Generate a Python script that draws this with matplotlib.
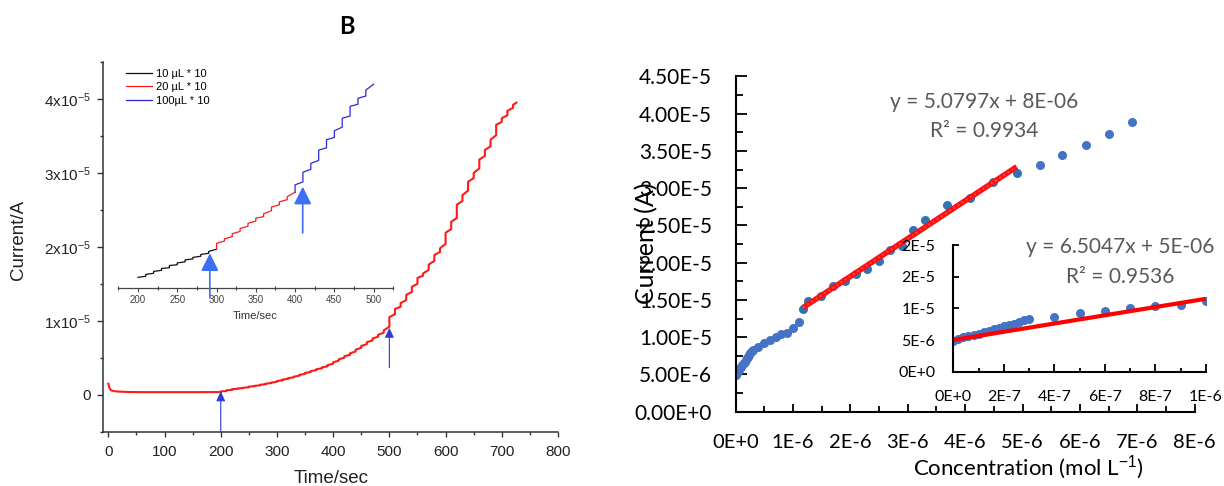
import numpy as np
import matplotlib
matplotlib.use('Agg')
import matplotlib.pyplot as plt
from matplotlib.ticker import FixedLocator, MultipleLocator, FuncFormatter

plt.rcParams['font.family'] = ['Liberation Sans', 'DejaVu Sans']
plt.rcParams['mathtext.fontset'] = 'custom'
plt.rcParams['mathtext.rm'] = 'Liberation Sans'
plt.rcParams['mathtext.it'] = 'Liberation Sans:italic'
plt.rcParams['mathtext.bf'] = 'Liberation Sans:bold'

# ---------------- amperometric trace (currents in uA) ----------------
t_base = [0, 2, 5, 10, 20, 35, 60, 100, 150, 200]
i_base = [1.5, 0.9, 0.6, 0.48, 0.42, 0.37, 0.35, 0.35, 0.35, 0.36]

# additions every 10 s; current just before / just after each addition
t_add = list(range(200, 730, 10))
i_before = [0.36, 0.50, 0.65, 0.80, 0.90, 1.00, 1.15, 1.27, 1.42, 1.57,
            1.75, 1.95, 2.15, 2.35, 2.57, 2.82, 3.07, 3.32, 3.57, 3.85,
            4.20, 4.60, 5.00, 5.40, 5.85, 6.35, 6.85, 7.35, 7.85, 8.40,
            9.20, 10.9, 11.9, 12.8, 13.9, 15.0, 16.1, 16.9, 18.1, 19.3,
            20.4, 22.4, 23.9, 26.2, 27.6, 29.3, 30.6, 32.3, 33.6, 35.1,
            36.9, 37.8, 38.8]
i_after = [0.45, 0.60, 0.75, 0.85, 0.95, 1.10, 1.20, 1.35, 1.50, 1.65,
           1.85, 2.05, 2.25, 2.45, 2.70, 2.95, 3.20, 3.45, 3.70, 4.00,
           4.40, 4.80, 5.20, 5.60, 6.10, 6.60, 7.10, 7.60, 8.10, 8.70,
           10.5, 11.6, 12.4, 13.5, 14.6, 15.8, 16.4, 17.6, 18.9, 19.8,
           21.9, 23.4, 25.7, 27.0, 28.8, 30.0, 31.8, 33.1, 34.5, 36.5,
           37.4, 38.4, 39.2]
t_stop, i_stop = 726, 39.5

# zoomed traces for the three injection volumes
ins_t_10 = [200, 210, 220, 230, 240, 250, 260, 270, 280, 290]
ins_before_10 = [15.9, 16.05, 16.45, 16.85, 17.2, 17.6, 18.0, 18.4, 18.75, 19.15]
ins_after_10 = [15.9, 16.3, 16.7, 17.1, 17.5, 17.85, 18.25, 18.6, 19.0, 19.4]
ins_t_20 = [300, 310, 320, 330, 340, 350, 360, 370, 380, 390]
ins_before_20 = [19.7, 20.8, 21.4, 22.1, 22.8, 23.5, 24.1, 24.9, 25.7, 26.4]
ins_after_20 = [20.5, 21.1, 21.8, 22.5, 23.2, 23.9, 24.5, 25.4, 26.1, 26.8]
ins_t_100 = [400, 410, 420, 430, 440, 450, 460, 470, 480, 490]
ins_before_100 = [27.4, 28.8, 30.5, 31.7, 33.4, 34.8, 36.2, 37.7, 39.3, 40.4]
ins_after_100 = [28.4, 30.1, 31.3, 33.1, 34.5, 35.7, 37.4, 39.0, 40.1, 41.2]
ins_labels = ['10 µL * 10', '20 µL * 10', '100µL * 10']

# ---------------- calibration (conc in umol/L, current in uA) ----------------
conc_dense = [0.00, 0.02, 0.04, 0.06, 0.08, 0.10, 0.12, 0.14,
              0.16, 0.18, 0.20, 0.22, 0.24, 0.26, 0.28, 0.30]
cur_dense = [4.9, 5.2, 5.4, 5.6, 5.85, 6.0, 6.3, 6.5,
             6.7, 6.9, 7.2, 7.4, 7.6, 7.9, 8.1, 8.35]
conc_low = [0.4, 0.5, 0.6, 0.7, 0.8, 0.9, 1.0]
cur_low = [8.7, 9.2, 9.6, 10.0, 10.4, 10.5, 11.2]
conc_mid = [1.1]
cur_mid = [12.0]
conc_fit = [1.18, 1.27, 1.49, 1.69, 1.90, 2.10, 2.29, 2.50,
            2.69, 2.90, 3.09, 3.30, 3.68, 4.08, 4.49, 4.90]
cur_fit = [13.75, 14.9, 15.5, 16.9, 17.5, 18.5, 19.2, 20.2,
           21.7, 22.2, 24.4, 25.8, 27.7, 28.7, 30.9, 32.1]
conc_high = [5.30, 5.69, 6.10, 6.50, 6.90]
cur_high = [33.1, 34.4, 35.8, 37.3, 38.9]

fit_slope, fit_icpt, fit_r2 = 5.0797, 8e-06, 0.9934
low_slope, low_icpt, low_r2 = 6.5047, 5e-06, 0.9536

uA = 1e-6
uM = 1e-6


def staircase(ts, before, after, t_last, i_last):
    xs, ys = [], []
    for t, b, a in zip(ts, before, after):
        xs += [t, t]
        ys += [b, a]
    xs.append(t_last)
    ys.append(i_last)
    return np.array(xs), np.array(ys) * uA


def up_arrow(ax, x, y_tail, y_tip, color, lw, hl, hw):
    ax.annotate('', xy=(x, y_tip), xytext=(x, y_tail),
                arrowprops=dict(arrowstyle=f'-|>,head_length={hl},head_width={hw}',
                                color=color, lw=lw, mutation_scale=1,
                                shrinkA=0, shrinkB=0),
                annotation_clip=False)


def excel_sci(decimals):
    def fmt(v, pos):
        if abs(v) < 1e-15:
            return '0' + ('.' + '0' * decimals if decimals else '') + 'E+0'
        m, e = f'{v:.{decimals}E}'.split('E')
        e = int(e)
        return f'{m}E{e:+d}' if e > 0 else f'{m}E{e}'
    return FuncFormatter(fmt)


W, H = 1224, 486
fig = plt.figure(figsize=(W / 100, H / 100), dpi=100)


def box(l, t, r, b):
    return [l / W, 1 - b / H, (r - l) / W, (b - t) / H]


# ======================= left: i-t curve =======================
axL = fig.add_axes(box(102.7, 62, 558, 431.7))
xs, ys = staircase(t_add, i_before, i_after, t_stop, i_stop)
axL.plot(t_base, np.array(i_base) * uA, color='#ff1a1a', lw=1.5)
axL.plot(xs, ys, color='#ff1a1a', lw=1.5)
axL.set_xlim(-10, 800)
axL.set_ylim(-5e-6, 45e-6)
for s in ['top', 'right']:
    axL.spines[s].set_visible(False)
for s in ['left', 'bottom']:
    axL.spines[s].set_color('#333333')
    axL.spines[s].set_linewidth(1.1)
axL.xaxis.set_major_locator(MultipleLocator(100))
axL.xaxis.set_minor_locator(MultipleLocator(50))
axL.yaxis.set_major_locator(FixedLocator([0, 1e-5, 2e-5, 3e-5, 4e-5]))
axL.yaxis.set_minor_locator(FixedLocator([-5e-6, 5e-6, 15e-6, 25e-6, 35e-6, 45e-6]))


def origin_fmt(v, pos):
    n = int(round(v / 1e-5))
    if n == 0:
        return '0'
    return f'$\\mathrm{{{n}x10^{{-5}}}}$'


axL.yaxis.set_major_formatter(FuncFormatter(origin_fmt))
axL.tick_params(which='major', direction='out', width=1, color='#333333',
                labelsize=11, labelcolor='#222222')
axL.tick_params(axis='y', which='major', length=4.3, pad=4.5)
axL.tick_params(axis='x', which='major', length=3.6, pad=6)
axL.tick_params(which='minor', direction='out', length=2, width=1, color='#333333')
up_arrow(axL, 200, -5e-6, 0.45e-6, '#2b3bd8', 0.8, 5.8, 2.7)
up_arrow(axL, 500, 3.65e-6, 9.05e-6, '#2b3bd8', 0.8, 5.8, 2.7)
fig.text(331 / W, 1 - 478 / H, 'Time/sec', ha='center', va='center',
         fontsize=13.5, color='#222222')
fig.text(19 / W, 1 - 240 / H, 'Current/A', ha='center', va='center',
         rotation=90, fontsize=13.5, color='#222222')

# inset: zoom on the three injection volumes
axLi = fig.add_axes(box(118.3, 62, 393.3, 288.3))
axLi.set_facecolor('none')
x10, y10 = staircase(ins_t_10, ins_before_10, ins_after_10, 300, 19.7)
x20, y20 = staircase(ins_t_20, ins_before_20, ins_after_20, 400, 27.4)
x100, y100 = staircase(ins_t_100, ins_before_100, ins_after_100, 500, 42.0)
h1, = axLi.plot(x10, y10, color='#111111', lw=0.9)
h2, = axLi.plot(x20, y20, color='#ff1a1a', lw=0.9)
h3, = axLi.plot(x100, y100, color='#2a2ad6', lw=0.9)
axLi.set_xlim(175, 525)
axLi.set_ylim(14.42e-6, 45e-6)
for s in ['top', 'right', 'left']:
    axLi.spines[s].set_visible(False)
axLi.spines['bottom'].set_color('#444444')
axLi.spines['bottom'].set_linewidth(0.9)
axLi.set_yticks([])
axLi.xaxis.set_major_locator(MultipleLocator(50))
axLi.xaxis.set_minor_locator(MultipleLocator(25))
axLi.tick_params(which='major', direction='out', length=3, width=0.8, color='#444444',
                 labelsize=7, labelcolor='#444444', pad=2)
axLi.tick_params(which='minor', direction='inout', length=3, width=0.8, color='#444444')
axLi.legend([h1, h2, h3], ins_labels, loc='upper left',
            bbox_to_anchor=(126.4 / W, 1 - 69 / H), bbox_transform=fig.transFigure,
            frameon=False, fontsize=8, handlelength=2.3, handletextpad=0.4,
            labelspacing=0.3, borderpad=0, borderaxespad=0)
up_arrow(axLi, 291.5, 13.1e-6, 19.15e-6, '#3d6ff5', 1.2, 10.8, 5.4)
up_arrow(axLi, 409.7, 21.9e-6, 28.15e-6, '#3d6ff5', 1.2, 10.8, 5.4)
fig.text(255 / W, 1 - 316 / H, 'Time/sec', ha='center', va='center',
         fontsize=8, color='#333333')

fig.text(347 / W, 1 - 26.7 / H, 'B', ha='center', va='center',
         fontsize=17, fontweight='bold', family='Lato')

# ======================= right: calibration plot =======================
axR = fig.add_axes(box(735.5, 76.5, 1194.8, 411.7))
dot = dict(ls='none', marker='o', ms=6.5, mec='none')
axR.plot(np.array(conc_dense) * uM, np.array(cur_dense) * uA, color='#4472C4', **dot)
axR.plot(np.array(conc_low + conc_mid) * uM, np.array(cur_low + cur_mid) * uA,
         color='#4472C4', **dot)
axR.plot(np.array(conc_fit) * uM, np.array(cur_fit) * uA, color='#2E75B6', **dot)
axR.plot(np.array(conc_high) * uM, np.array(cur_high) * uA, color='#4472C4', **dot)
xf = np.array([conc_fit[0], conc_fit[-1]]) * uM
axR.plot(xf, fit_slope * xf + fit_icpt, color='#ff1010', lw=4, solid_capstyle='butt')
axR.plot(xf, fit_slope * xf + fit_icpt, color='#ff8080', lw=1.2, ls=(0, (1, 2)), alpha=0.6)
axR.set_xlim(0, 8e-6)
axR.set_ylim(0, 4.5e-5)
for s in ['top', 'right']:
    axR.spines[s].set_visible(False)
for s in ['left', 'bottom']:
    axR.spines[s].set_linewidth(1.5)
axR.xaxis.set_major_locator(FixedLocator([k * 1e-6 for k in range(9)]))
axR.xaxis.set_minor_locator(FixedLocator([(k + 0.5) * 1e-6 for k in range(8)]))
axR.yaxis.set_major_locator(FixedLocator([k * 5e-6 for k in range(10)]))
axR.yaxis.set_minor_locator(FixedLocator([(k + 0.5) * 5e-6 for k in range(9)]))
axR.xaxis.set_major_formatter(excel_sci(0))
axR.yaxis.set_major_formatter(excel_sci(2))
axR.tick_params(axis='y', which='major', direction='in', length=8, width=1.3,
                labelsize=15, labelfontfamily='Lato', pad=17)
axR.tick_params(axis='y', which='minor', direction='in', length=5, width=1.3)
axR.tick_params(axis='x', which='major', direction='in', length=6, width=1.3,
                labelsize=14.5, labelfontfamily='Lato', pad=16)
axR.tick_params(axis='x', which='minor', direction='in', length=4, width=1.3)
fig.text(984 / W, 1 - 101.7 / H, f'y = {fit_slope}x + 8E-06', ha='center', va='center',
         fontsize=15, color='#595959', family='Lato')
fig.text(984 / W, 1 - 130.7 / H, f'R² = {fit_r2}', ha='center', va='center',
         fontsize=15, color='#595959', family='Lato')
fig.text(647 / W, 1 - 243 / H, 'Current (A)', ha='center', va='center', rotation=90,
         fontsize=18, family='Lato')
fig.text(1028 / W, 1 - 468 / H, 'Concentration (mol L$^{-1}$)', ha='center', va='center',
         fontsize=16, family='Lato')

# inset: low-concentration range
axRi = fig.add_axes(box(953.3, 245, 1205.8, 371.7))
axRi.set_facecolor('none')
axRi.plot(np.array(conc_dense) * uM, np.array(cur_dense) * uA, color='#4472C4', **dot)
axRi.plot(np.array(conc_low) * uM, np.array(cur_low) * uA, color='#4472C4', **dot)
xl = np.array([0, 1.0]) * uM
axRi.plot(xl, low_slope * xl + low_icpt, color='#ff0000', lw=3, solid_capstyle='butt')
axRi.set_xlim(0, 1e-6)
axRi.set_ylim(0, 2e-5)
for s in ['top', 'right']:
    axRi.spines[s].set_visible(False)
for s in ['left', 'bottom']:
    axRi.spines[s].set_linewidth(1.5)
axRi.xaxis.set_major_locator(FixedLocator([k * 2e-7 for k in range(6)]))
axRi.xaxis.set_minor_locator(FixedLocator([(2 * k + 1) * 1e-7 for k in range(5)]))
axRi.yaxis.set_major_locator(FixedLocator([k * 5e-6 for k in range(5)]))
axRi.xaxis.set_major_formatter(excel_sci(0))
axRi.yaxis.set_major_formatter(excel_sci(0))
axRi.tick_params(axis='y', which='major', direction='in', length=4, width=1.3,
                 labelsize=11.5, labelfontfamily='Lato', pad=13)
axRi.tick_params(axis='x', which='major', direction='in', length=5.5, width=1.3,
                 labelsize=11.5, labelfontfamily='Lato', pad=13)
axRi.tick_params(axis='x', which='minor', direction='in', length=3, width=1.3)
fig.text(1120 / W, 1 - 247.3 / H, f'y = {low_slope}x + 5E-06', ha='center', va='center',
         fontsize=15, color='#595959', family='Lato')
fig.text(1120 / W, 1 - 276.7 / H, f'R² = {low_r2}', ha='center', va='center',
         fontsize=15, color='#595959', family='Lato')

fig.savefig('out.png', dpi=100)
